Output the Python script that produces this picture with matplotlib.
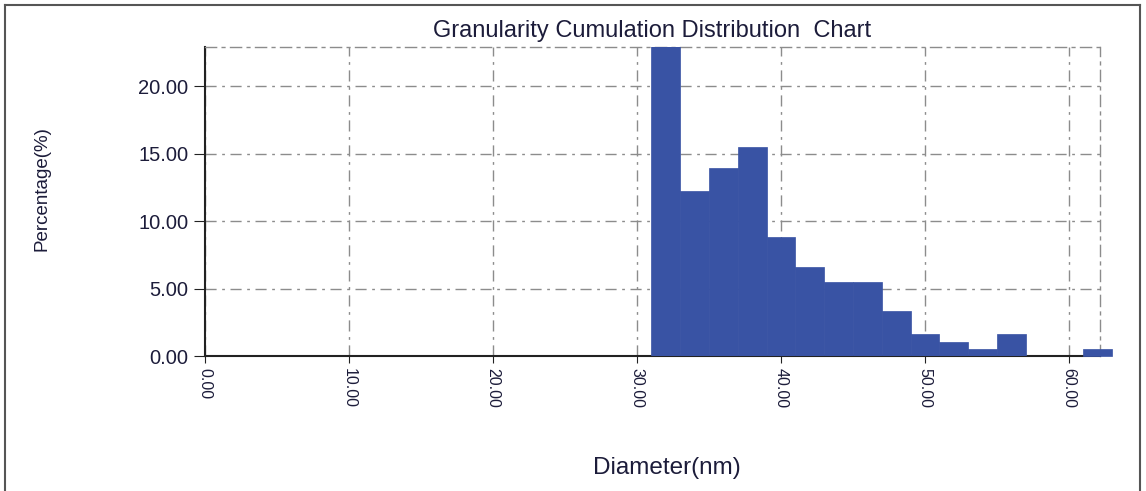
import numpy as np
import matplotlib.pyplot as plt
from matplotlib.lines import Line2D

plt.rcParams['font.family'] = ['Liberation Sans', 'DejaVu Sans']

# Histogram data (bins are 2 nm wide)
bin_left = [31, 33, 35, 37, 39, 41, 43, 45, 47, 49, 51, 53, 55, 57, 59, 61]
percent = [23.5, 12.2, 13.9, 15.5, 8.8, 6.6, 5.5, 5.5, 3.3, 1.6, 1.05, 0.5, 1.6, 0.0, 0.0, 0.5]
x_ticks = [0, 10, 20, 30, 40, 50, 60]
y_ticks = [0, 5, 10, 15, 20]

W, H = 1146, 491
fig = plt.figure(figsize=(W / 100, H / 100), dpi=100)
ax = fig.add_axes([205 / W, 1 - 356 / H, (1100 - 205) / W, (356 - 47) / H])

txt = '#1c1c3a'
grid_ls = (0, (8, 4, 2, 4))
grid_c = '#8c8c8c'

bars = ax.bar(bin_left, percent, width=2, align='edge', color='#3953a4',
              edgecolor='#3953a4', linewidth=0.5, zorder=3)
bars[-1].set_clip_on(False)  # last bin pokes out past the axis end

ax.set_xlim(0, 62.15)
ax.set_ylim(0, 22.9)
ax.set_xticks(x_ticks)
ax.set_xticklabels(['%.2f' % v for v in x_ticks])
ax.set_yticks(y_ticks)
ax.set_yticklabels(['%.2f' % v for v in y_ticks])
ax.tick_params(axis='x', length=5, pad=4, labelsize=11.5, labelrotation=-90, colors=txt)
ax.tick_params(axis='y', length=8, pad=4, labelsize=14.5, colors=txt)
ax.tick_params(color='#222222')

ax.grid(True, linestyle=grid_ls, color=grid_c, linewidth=1)
ax.set_axisbelow(True)
for s in ['top', 'right']:
    ax.spines[s].set_linestyle(grid_ls)
    ax.spines[s].set_color(grid_c)
    ax.spines[s].set_linewidth(1)
for s in ['left', 'bottom']:
    ax.spines[s].set_color('#222222')
    ax.spines[s].set_linewidth(1.5)

fig.text(652 / W, 1 - 31 / H, 'Granularity Cumulation Distribution  Chart',
         ha='center', va='center', fontsize=17, color=txt)
fig.text(42 / W, 1 - 189 / H, 'Percentage(%)', rotation=90,
         ha='center', va='center', fontsize=13.5, color=txt)
fig.text(667 / W, 1 - 468 / H, 'Diameter(nm)',
         ha='center', va='center', fontsize=17.5, color=txt)

# outer frame (no bottom edge visible)
fc = '#555555'
fig.add_artist(Line2D([5 / W, 5 / W], [0, 1 - 5 / H], color=fc, lw=1.5))
fig.add_artist(Line2D([5 / W, 1140 / W], [1 - 5 / H, 1 - 5 / H], color=fc, lw=1.5))
fig.add_artist(Line2D([1140 / W, 1140 / W], [0, 1 - 5 / H], color=fc, lw=1.5))

fig.savefig('out.png', dpi=100)
